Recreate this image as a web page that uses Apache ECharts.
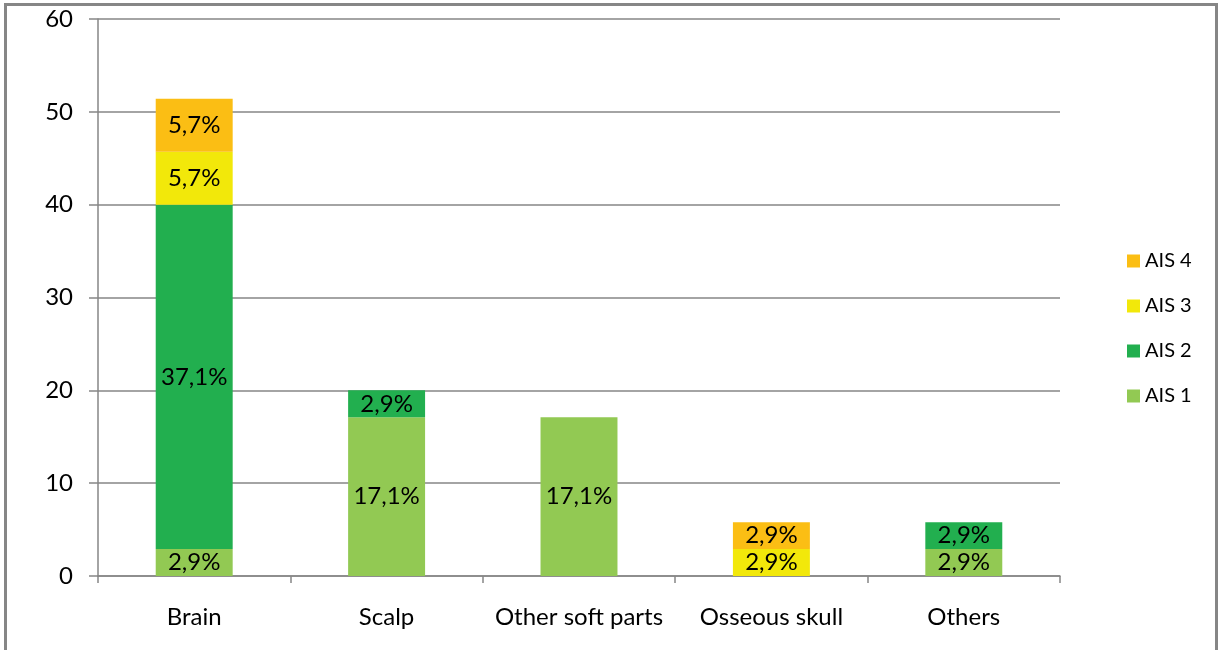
<!DOCTYPE html>
<html>
<head>
<meta charset="utf-8">
<script src="https://cdn.jsdelivr.net/npm/echarts@6/dist/echarts.min.js"></script>
<style>
  html, body { margin: 0; padding: 0; background: #fff; overflow: hidden; }
  #frame { position: absolute; left: 4px; top: 3px; width: 1208px; height: 700px; border: 3px solid #868686; border-bottom: none; }
  #main { position: absolute; left: 0; top: 0; width: 1219px; height: 650px; }
</style>
</head>
<body>
<div id="frame"></div>
<div id="main"></div>
<script>
// 数据
var categories = ['Brain', 'Scalp', 'Other soft parts', 'Osseous skull', 'Others'];
var ais1 = [2.9, 17.1, 17.1, null, 2.9];
var ais2 = [37.1, 2.9, null, null, 2.9];
var ais3 = [5.7, null, null, 2.9, null];
var ais4 = [5.7, null, null, 2.9, null];
var yTicks = [0, 10, 20, 30, 40, 50, 60];

var axisGrey = '#868686';
var font = 'Lato, "Open Sans", sans-serif';

function pct(p) {
    return p.value.toFixed(1).replace('.', ',') + '%';
}

function makeSeries(name, data, color) {
    return {
        name: name,
        type: 'bar',
        stack: 'ais',
        barWidth: '40%',
        data: data,
        itemStyle: { color: color },
        label: {
            show: true,
            position: 'inside',
            formatter: pct,
            color: '#000',
            fontSize: 24,
            fontFamily: font
        }
    };
}

var myChart = echarts.init(document.getElementById('main'));

var option = {
    animation: false,
    textStyle: { fontFamily: font },
    grid: { left: 98, right: 159, top: 19, bottom: 74 },
    legend: {
        orient: 'vertical',
        left: 1122,
        top: 246,
        itemWidth: 13,
        itemHeight: 13,
        itemGap: 25,
        icon: 'rect',
        data: ['AIS 4', 'AIS 3', 'AIS 2', 'AIS 1'],
        textStyle: { fontSize: 20, color: '#000', fontFamily: font }
    },
    xAxis: {
        type: 'category',
        data: categories,
        axisLine: { lineStyle: { color: axisGrey, width: 1.5 } },
        axisTick: { show: true, length: 7, lineStyle: { color: axisGrey, width: 1.5 } },
        axisLabel: { interval: 0, margin: 29, fontSize: 24, color: '#000', fontFamily: font }
    },
    yAxis: {
        type: 'value',
        min: yTicks[0],
        max: yTicks[yTicks.length - 1],
        interval: 10,
        axisLine: { show: true, lineStyle: { color: axisGrey, width: 1.5 } },
        axisTick: { show: true, length: 9, lineStyle: { color: axisGrey, width: 1.5 } },
        axisLabel: { margin: 25, fontSize: 24, color: '#000', fontFamily: font },
        splitLine: { lineStyle: { color: axisGrey, width: 1.5 } }
    },
    series: [
        makeSeries('AIS 1', ais1, '#92c953'),
        makeSeries('AIS 2', ais2, '#22af4f'),
        makeSeries('AIS 3', ais3, '#f2e80a'),
        makeSeries('AIS 4', ais4, '#fbbe14')
    ]
};

myChart.setOption(option);
</script>
</body>
</html>
